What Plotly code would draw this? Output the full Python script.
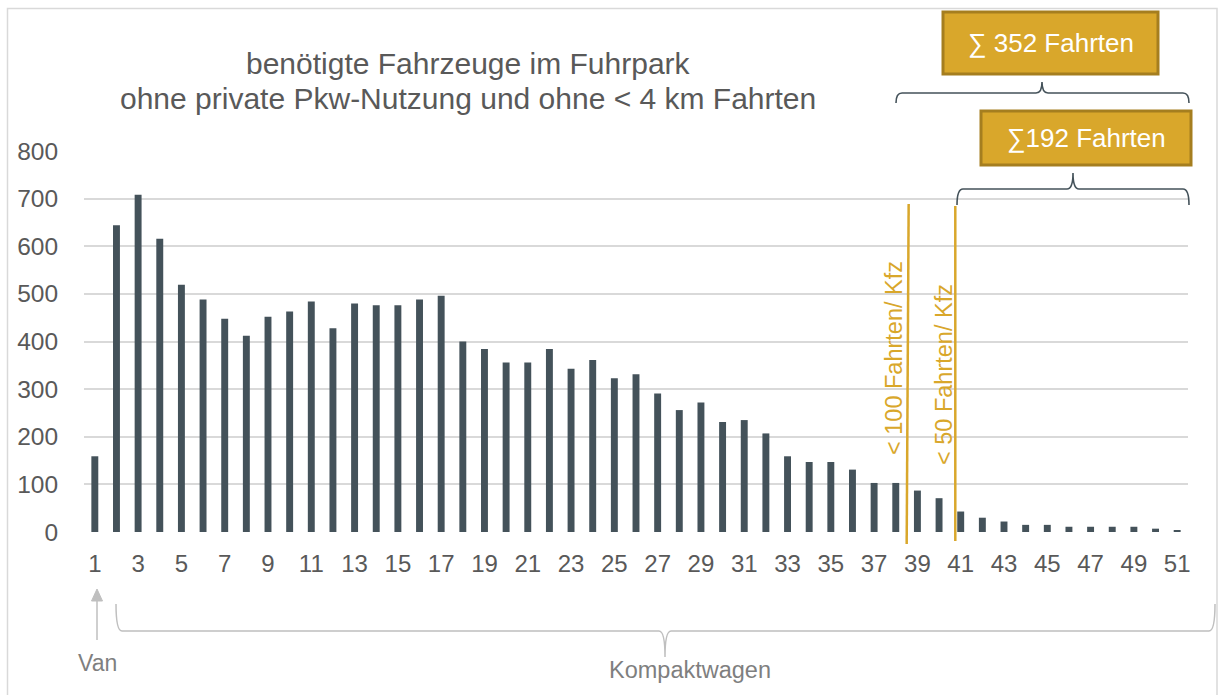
import plotly.graph_objects as go

categories = list(range(1, 52))
values = [159, 644, 708, 616, 519, 488, 448, 412, 452, 463, 484, 428, 480, 476, 476, 488, 496,
          400, 384, 356, 356, 384, 343, 361, 323, 331, 291, 256, 272, 231, 235, 207, 159, 147,
          147, 131, 103, 103, 87, 71, 43, 30, 22, 15, 15, 11, 11, 11, 11, 7, 3]
y_ticks = [0, 100, 200, 300, 400, 500, 600, 700, 800]
x_ticks = list(range(1, 52, 2))
title_lines = ["benötigte Fahrzeuge im Fuhrpark", "ohne private Pkw-Nutzung und ohne < 4 km Fahrten"]
box_labels = ["∑ 352 Fahrten", "∑192 Fahrten"]
line_labels = ["< 100 Fahrten/ Kfz", "< 50 Fahrten/ Kfz"]
line_positions = [38.55, 40.75]

W, H = 1219, 695
L, R, T, B = 84, 1188, 151, 532   # plot area in pixels

def px(x):
    return (x - L) / (R - L)

def py(y):
    return (B - y) / (B - T)

BAR = "#44525a"
GOLD = "#d9a72b"
GOLD_DARK = "#a57e1f"
GRAY_TXT = "#595959"
FONT = "Liberation Sans, Arial, sans-serif"

fig = go.Figure(go.Bar(x=categories, y=values, width=0.32, marker=dict(color=BAR, line=dict(width=0))))

shapes = []
annotations = []

# outer frame
shapes.append(dict(type="rect", xref="paper", yref="paper", x0=px(7.5), x1=px(1217), y0=py(720), y1=py(8.5),
                   line=dict(color="#d9d9d9", width=1.5), fillcolor="rgba(0,0,0,0)", layer="below"))

# title
for i, t in enumerate(title_lines):
    annotations.append(dict(text=t, xref="paper", yref="paper", x=px(468), y=py(64 + 34 * i), showarrow=False,
                            xanchor="center", yanchor="middle", font=dict(family=FONT, size=30, color=GRAY_TXT)))

def brace(x0, x1, xm, y_end, y_h, y_tip, color, width):
    r = 6
    p = (f"M {px(x0)},{py(y_end)} Q {px(x0)},{py(y_h)} {px(x0 + r)},{py(y_h)} "
         f"L {px(xm - r)},{py(y_h)} Q {px(xm)},{py(y_h)} {px(xm)},{py(y_tip)} "
         f"Q {px(xm)},{py(y_h)} {px(xm + r)},{py(y_h)} "
         f"L {px(x1 - r)},{py(y_h)} Q {px(x1)},{py(y_h)} {px(x1)},{py(y_end)}")
    return dict(type="path", xref="paper", yref="paper", path=p, line=dict(color=color, width=width))

# gold boxes
boxes = [(943, 1158, 12, 74), (981, 1191, 111, 165)]
for (x0, x1, y0, y1), lab in zip(boxes, box_labels):
    shapes.append(dict(type="rect", xref="paper", yref="paper", x0=px(x0), x1=px(x1), y0=py(y1), y1=py(y0),
                       fillcolor=GOLD, line=dict(color=GOLD_DARK, width=3)))
    annotations.append(dict(text=lab, xref="paper", yref="paper", x=px((x0 + x1) / 2), y=py((y0 + y1) / 2),
                            showarrow=False, xanchor="center", yanchor="middle",
                            font=dict(family=FONT, size=26, color="white")))

# braces above
shapes.append(brace(896, 1189, 1042, 103, 93, 82, BAR, 1.6))
shapes.append(brace(957, 1189, 1073, 205, 189, 173, BAR, 1.6))

# vertical gold lines with rotated labels
def dx(v):
    return (v - 0.5) / 51

shapes.append(dict(type="line", xref="paper", yref="paper", x0=dx(line_positions[0]) + 0.0009, x1=dx(line_positions[0]) - 0.0009,
                   y0=py(204), y1=py(544), line=dict(color=GOLD, width=2.5)))
shapes.append(dict(type="line", xref="paper", yref="paper", x0=dx(line_positions[1]), x1=dx(line_positions[1]),
                   y0=py(206), y1=py(541), line=dict(color=GOLD, width=2.5)))
annotations.append(dict(text=line_labels[0], xref="paper", yref="paper", x=px(894), y=py(358), textangle=-90,
                        showarrow=False, xanchor="center", yanchor="middle",
                        font=dict(family=FONT, size=23.5, color=GOLD)))
annotations.append(dict(text=line_labels[1], xref="paper", yref="paper", x=px(944), y=py(375), textangle=-90,
                        showarrow=False, xanchor="center", yanchor="middle",
                        font=dict(family=FONT, size=23.5, color=GOLD)))

# bottom: Van arrow and Kompaktwagen brace
LIGHT = "#bfbfbf"
shapes.append(dict(type="line", xref="paper", yref="paper", x0=px(97), x1=px(97), y0=py(640), y1=py(598),
                   line=dict(color=LIGHT, width=1.5)))
shapes.append(dict(type="path", xref="paper", yref="paper",
                   path=f"M {px(91.5)},{py(601)} L {px(97)},{py(589)} L {px(102.5)},{py(601)} Z",
                   fillcolor=LIGHT, line=dict(color=LIGHT, width=1)))
annotations.append(dict(text="Van", xref="paper", yref="paper", x=px(97), y=py(663), showarrow=False,
                        xanchor="center", yanchor="middle", font=dict(family=FONT, size=23, color="#7f7f7f")))
shapes.append(brace(116, 1215, 665, 604, 631, 657, LIGHT, 1.5))
annotations.append(dict(text="Kompaktwagen", xref="paper", yref="paper", x=px(690), y=py(670), showarrow=False,
                        xanchor="center", yanchor="middle", font=dict(family=FONT, size=23.5, color="#7f7f7f")))

fig.update_layout(
    width=W, height=H,
    margin=dict(l=L, r=W - R, t=T, b=H - B, pad=0),
    paper_bgcolor="white", plot_bgcolor="white",
    showlegend=False,
    shapes=shapes, annotations=annotations,
    xaxis=dict(range=[0.5, 51.5], tickmode="array", tickvals=x_ticks, ticktext=[str(v) for v in x_ticks],
               showgrid=False, zeroline=False, showline=False, ticks="outside", ticklen=10,
               tickcolor="rgba(0,0,0,0)", tickfont=dict(family=FONT, size=24, color=GRAY_TXT)),
    yaxis=dict(range=[0, 800], tickmode="array", tickvals=y_ticks, ticktext=[str(v) for v in y_ticks],
               showgrid=True, gridcolor="#d9d9d9", gridwidth=1.5, zeroline=False, showline=False,
               ticks="outside", ticklen=20, tickcolor="rgba(0,0,0,0)",
               tickfont=dict(family=FONT, size=24.5, color=GRAY_TXT)),
)

fig.write_html("out.html", config={"displayModeBar": False},
               post_script="document.body.style.margin='0';document.body.style.overflow='hidden';")
